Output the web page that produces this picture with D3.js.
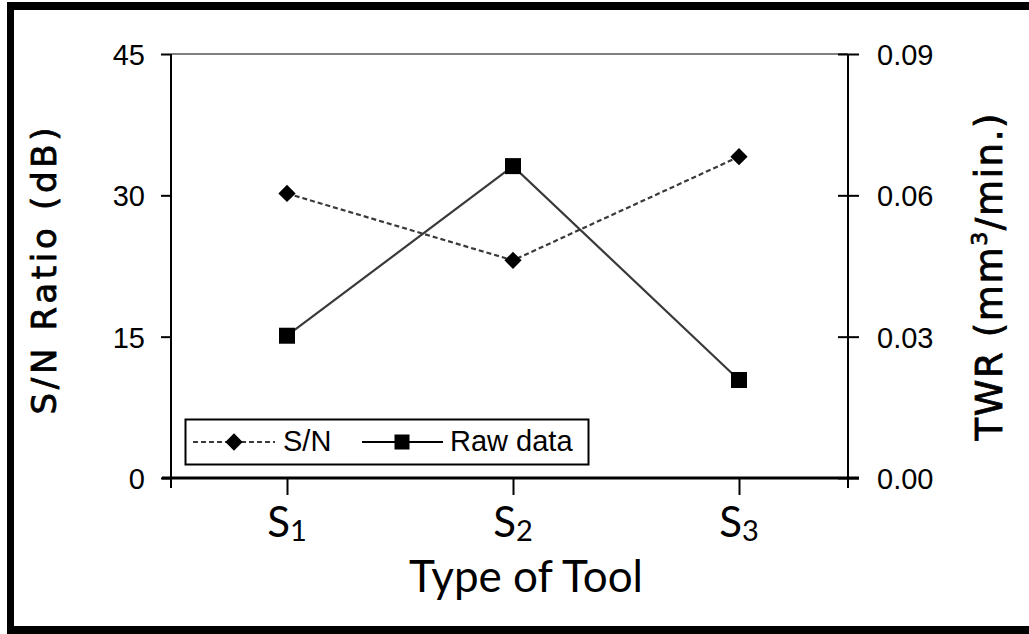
<!DOCTYPE html>
<html>
<head>
<meta charset="utf-8">
<script src="https://cdn.jsdelivr.net/npm/d3@7"></script>
<style>
  html, body { margin: 0; padding: 0; background: #fff; }
  svg { display: block; }
</style>
</head>
<body>
<svg id="chart" width="1029" height="634"></svg>
<script>
// Tool types on the x axis (drawn as S with a subscript index)
const tools = ["S1", "S2", "S3"];
const toolBase = ["S", "S", "S"];
const toolSub = ["1", "2", "3"];

// Signal-to-noise ratio (dB), left axis
const snRatio = [30.2, 23.1, 34.1];
// Tool wear rate raw data (mm^3/min.), right axis
const twrRaw = [0.0302, 0.0662, 0.0208];

// Axis ticks
const leftTicks = [0, 15, 30, 45];
const rightTicks = [0, 0.03, 0.06, 0.09];

(function () {
const svg = d3.select("#chart");
const W = 1029, H = 634;

// Plot area
const plotL = 171, plotR = 848, plotT = 54, plotB = 478;

const x = d3.scalePoint().domain(tools).range([plotL + 3, plotR + 4]).padding(0.5);
const yL = d3.scaleLinear().domain([0, 45]).range([plotB, plotT]);
const yR = d3.scaleLinear().domain([0, 0.09]).range([plotB, plotT]);

// Outer frame (thick black border on top, left and bottom)
svg.append("rect").attr("x", 0).attr("y", 0).attr("width", W).attr("height", H).attr("fill", "#fff");
svg.append("rect").attr("x", 7).attr("y", 2).attr("width", W - 7).attr("height", 8).attr("fill", "#000");
svg.append("rect").attr("x", 7).attr("y", 2).attr("width", 7).attr("height", H - 2).attr("fill", "#000");
svg.append("rect").attr("x", 7).attr("y", 626).attr("width", W - 7).attr("height", 8).attr("fill", "#000");

// Top border of plot area
svg.append("line")
  .attr("x1", plotL).attr("x2", plotR).attr("y1", yL(45)).attr("y2", yL(45))
  .attr("stroke", "#808080").attr("stroke-width", 2);

const tickFont = "'Liberation Sans', Arial, sans-serif";

// Left axis
const gL = svg.append("g").attr("transform", `translate(${plotL},0)`)
  .call(d3.axisLeft(yL).tickValues(leftTicks).tickSize(10).tickPadding(16).tickFormat(d3.format("d")));
gL.select(".domain").remove();
gL.selectAll(".tick line").attr("stroke", "#000").attr("stroke-width", 2);
gL.selectAll(".tick text").attr("font-family", tickFont).attr("font-size", 29).attr("fill", "#000").attr("dy", "0.36em");
svg.append("line").attr("x1", plotL).attr("x2", plotL).attr("y1", plotT).attr("y2", plotB + 10)
  .attr("stroke", "#000").attr("stroke-width", 2);

// Right axis (ticks cross the axis line)
const gR = svg.append("g").attr("transform", `translate(${plotR},0)`)
  .call(d3.axisRight(yR).tickValues(rightTicks).tickSize(11).tickPadding(18).tickFormat(d3.format(".2f")));
gR.select(".domain").remove();
gR.selectAll(".tick line").attr("x1", -10).attr("stroke", "#000").attr("stroke-width", 2);
gR.selectAll(".tick text").attr("font-family", tickFont).attr("font-size", 29).attr("fill", "#000").attr("dy", "0.36em");
svg.append("line").attr("x1", plotR).attr("x2", plotR).attr("y1", plotT).attr("y2", plotB + 10)
  .attr("stroke", "#000").attr("stroke-width", 2);

// Bottom axis
const gB = svg.append("g").attr("transform", `translate(0,${plotB})`)
  .call(d3.axisBottom(x).tickSize(17).tickFormat(""));
gB.select(".domain").remove();
gB.selectAll(".tick line").attr("stroke", "#000").attr("stroke-width", 2);
svg.append("line").attr("x1", plotL - 9).attr("x2", plotR + 11).attr("y1", plotB).attr("y2", plotB)
  .attr("stroke", "#000").attr("stroke-width", 3);

// Category labels S with subscript
const catFont = "Lato, 'Open Sans', sans-serif";
tools.forEach((t, i) => {
  const txt = svg.append("text")
    .attr("x", x(t)).attr("y", 537)
    .attr("text-anchor", "middle")
    .attr("font-family", catFont).attr("font-size", 42).attr("fill", "#000");
  txt.append("tspan").text(toolBase[i]);
  txt.append("tspan").attr("font-size", 29).attr("dy", 4).text(toolSub[i]);
});

// X axis title
svg.append("text")
  .attr("x", 526).attr("y", 592)
  .attr("text-anchor", "middle")
  .attr("font-family", catFont).attr("font-size", 44).attr("fill", "#000")
  .text("Type of Tool");

// Left axis title
const titleFont = "'DejaVu Sans', Verdana, sans-serif";
svg.append("text")
  .attr("transform", "translate(56,271) rotate(-90)")
  .attr("text-anchor", "middle")
  .attr("font-family", titleFont).attr("font-size", 34).attr("fill", "#000")
  .attr("stroke", "#000").attr("stroke-width", 0.8)
  .attr("textLength", 287).attr("lengthAdjust", "spacing")
  .text("S/N Ratio (dB)");

// Right axis title with superscript
const rt = svg.append("text")
  .attr("transform", "translate(1002,277) rotate(-90)")
  .attr("text-anchor", "middle")
  .attr("font-family", titleFont).attr("font-size", 37).attr("fill", "#000")
  .attr("stroke", "#000").attr("stroke-width", 0.8)
  .attr("textLength", 327).attr("lengthAdjust", "spacing");
rt.append("tspan").text("TWR (mm");
rt.append("tspan").attr("font-size", 22).attr("dy", -15).text("3");
rt.append("tspan").attr("dy", 15).text("/min.)");

// Series lines
const lineColor = "#3a3a3a";
const snLine = d3.line().x((d, i) => x(tools[i])).y(d => yL(d));
const twrLine = d3.line().x((d, i) => x(tools[i])).y(d => yR(d));

svg.append("path").datum(snRatio).attr("d", snLine)
  .attr("fill", "none").attr("stroke", lineColor).attr("stroke-width", 2.2).attr("stroke-dasharray", "5,3");
svg.append("path").datum(twrRaw).attr("d", twrLine)
  .attr("fill", "none").attr("stroke", lineColor).attr("stroke-width", 2.2);

// Markers
const diamond = d3.symbol().type(d3.symbolDiamond2).size(190);
svg.selectAll(".sn-pt").data(snRatio).join("path")
  .attr("class", "sn-pt")
  .attr("transform", (d, i) => `translate(${x(tools[i])},${yL(d)})`)
  .attr("d", diamond).attr("fill", "#000");

const sq = 16;
svg.selectAll(".twr-pt").data(twrRaw).join("rect")
  .attr("class", "twr-pt")
  .attr("x", (d, i) => x(tools[i]) - sq / 2).attr("y", d => yR(d) - sq / 2)
  .attr("width", sq).attr("height", sq).attr("fill", "#000");

// Legend
const lg = svg.append("g");
lg.append("rect").attr("x", 185.5).attr("y", 419.5).attr("width", 403).attr("height", 45)
  .attr("fill", "#fff").attr("stroke", "#000").attr("stroke-width", 2);
const ly = 442;
lg.append("line").attr("x1", 193).attr("x2", 275).attr("y1", ly).attr("y2", ly)
  .attr("stroke", lineColor).attr("stroke-width", 2.2).attr("stroke-dasharray", "5,3");
lg.append("path").attr("transform", `translate(234,${ly})`).attr("d", diamond).attr("fill", "#000");
lg.append("text").attr("x", 283).attr("y", 451).attr("font-family", tickFont).attr("font-size", 29)
  .attr("fill", "#000").text("S/N");
lg.append("line").attr("x1", 362).attr("x2", 443).attr("y1", ly).attr("y2", ly)
  .attr("stroke", "#000").attr("stroke-width", 2.2);
lg.append("rect").attr("x", 402 - 7.5).attr("y", ly - 7.5).attr("width", 15).attr("height", 15).attr("fill", "#000");
lg.append("text").attr("x", 450).attr("y", 451).attr("font-family", tickFont).attr("font-size", 29)
  .attr("fill", "#000").text("Raw data");
})();
</script>
</body>
</html>
